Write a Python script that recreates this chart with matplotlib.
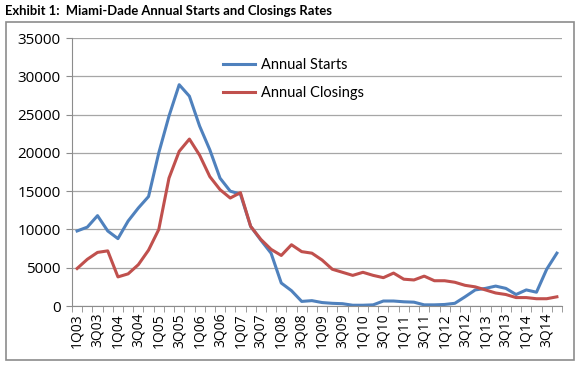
import matplotlib
matplotlib.use("Agg")
import matplotlib.pyplot as plt
from matplotlib.patches import Rectangle
from matplotlib.ticker import FixedLocator

quarters = [f"{q}Q{y:02d}" for y in range(3, 15) for q in range(1, 5)]
starts = [9800, 10300, 11800, 9800, 8800, 11100, 12800, 14300,
          20000, 24800, 28900, 27400, 23500, 20400, 16700, 15000,
          14600, 10400, 8600, 6900, 3000, 2000, 600, 700,
          450, 350, 300, 100, 100, 150, 650, 650,
          550, 500, 150, 150, 200, 350, 1200, 2100,
          2300, 2600, 2300, 1500, 2100, 1800, 4800, 6900]
closings = [4900, 6100, 7000, 7200, 3800, 4200, 5400, 7300,
            10000, 16700, 20200, 21800, 19700, 16900, 15200, 14100,
            14800, 10400, 8700, 7400, 6600, 8000, 7100, 6900,
            6000, 4800, 4400, 4000, 4400, 4000, 3700, 4300,
            3500, 3400, 3900, 3300, 3300, 3100, 2700, 2500,
            2100, 1700, 1500, 1100, 1100, 950, 950, 1200]
yticks = [0, 5000, 10000, 15000, 20000, 25000, 30000, 35000]

W, H = 580, 367
fig = plt.figure(figsize=(W / 100, H / 100), dpi=100)
fig.patch.set_facecolor("white")

fig.text(5 / W, 1 - 11 / H, "Exhibit 1:  Miami-Dade Annual Starts and Closings Rates",
         fontsize=9.4, fontweight="bold", family="Lato", va="center", ha="left")
fig.patches.append(Rectangle((6 / W, 1 - 360 / H), (574 - 6) / W, (360 - 22) / H,
                             transform=fig.transFigure, fill=False,
                             edgecolor="#8c8c8c", linewidth=1.2))

ax = fig.add_axes([72 / W, 1 - 306 / H, (562 - 72) / W, (306 - 38) / H])
x = list(range(len(quarters)))
ax.plot(x, starts, color="#4F81BD", lw=2.2, label="Annual Starts")
ax.plot(x, closings, color="#C0504D", lw=2.2, label="Annual Closings")

ax.set_xlim(-0.5, len(quarters) - 0.5)
ax.set_ylim(0, 35000)
ax.set_yticks(yticks)
ax.set_yticklabels([str(v) for v in yticks], family="Open Sans", fontsize=11)
ax.yaxis.grid(True, color="#a6a6a6", lw=0.9)
ax.set_axisbelow(True)

ax.set_xticks(x[::2])
ax.set_xticklabels(quarters[::2], rotation=90, family="Open Sans", fontsize=10)
ax.xaxis.set_minor_locator(FixedLocator([i - 0.5 for i in range(len(quarters) + 1)]))
ax.tick_params(axis="x", which="major", length=0, pad=5)
ax.tick_params(axis="x", which="minor", length=4, color="#8c8c8c", direction="out")
ax.tick_params(axis="y", length=4, color="#8c8c8c", pad=4)

for s in ["top", "right"]:
    ax.spines[s].set_visible(False)
for s in ["left", "bottom"]:
    ax.spines[s].set_color("#8c8c8c")

ax.legend(loc="upper left", bbox_to_anchor=(0.282, 0.975), frameon=False,
          prop={"family": "Lato", "size": 10.5}, handlelength=2.2,
          labelspacing=0.95, handletextpad=0.4)

fig.savefig("out.png", dpi=100)
